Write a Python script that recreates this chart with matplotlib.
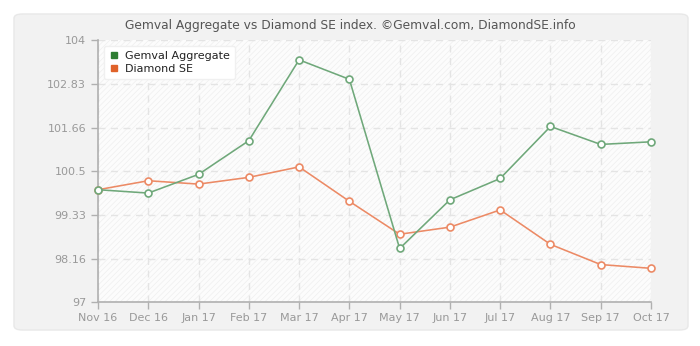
import matplotlib
matplotlib.use("Agg")
import matplotlib.pyplot as plt
from matplotlib.patches import FancyBboxPatch, Rectangle
from matplotlib.lines import Line2D

months = ["Nov 16", "Dec 16", "Jan 17", "Feb 17", "Mar 17", "Apr 17",
          "May 17", "Jun 17", "Jul 17", "Aug 17", "Sep 17", "Oct 17"]
gemval = [100.0, 99.91, 100.41, 101.31, 103.47, 102.95,
          98.43, 99.73, 100.30, 101.69, 101.21, 101.28]
diamond = [100.0, 100.24, 100.15, 100.33, 100.61, 99.69,
           98.81, 99.0, 99.46, 98.54, 98.0, 97.90]
yticks = [97, 98.16, 99.33, 100.5, 101.66, 102.83, 104]
ytick_labels = ["97", "98.16", "99.33", "100.5", "101.66", "102.83", "104"]

plt.rcParams['font.family'] = ['DejaVu Sans']
plt.rcParams['hatch.color'] = '#efefef'
plt.rcParams['hatch.linewidth'] = 0.5

fig = plt.figure(figsize=(7, 3.46), dpi=100)
fig.patch.set_facecolor("white")

# outer rounded panel
panel = FancyBboxPatch((14/700, 1-330/346), 674/700, 316/346,
                       boxstyle="round,pad=0,rounding_size=0.012",
                       transform=fig.transFigure, facecolor="#f2f2f2",
                       edgecolor="#e8e8e8", linewidth=1, zorder=-10)
fig.patches.append(panel)

ax = fig.add_axes([98/700, 1-302/346, 553/700, 262/346])
ax.set_zorder(1)
ax.set_facecolor("#fcfcfc")
x = list(range(len(months)))

# hatched background
ax.add_patch(Rectangle((0, 0), 1, 1, transform=ax.transAxes, facecolor="#fcfcfc",
                       hatch="//////", edgecolor="#efefef", linewidth=0, zorder=0))

ax.set_xlim(0, len(months) - 1)
ax.set_ylim(97, 104)
ax.set_xticks(x)
ax.set_xticklabels(months)
ax.set_yticks(yticks)
ax.set_yticklabels(ytick_labels)

ax.grid(True, linestyle=(0, (5, 4)), color="#e4e4e4", linewidth=1, zorder=1)

for s in ["top", "right"]:
    ax.spines[s].set_visible(False)
for s in ["left", "bottom"]:
    ax.spines[s].set_color("#b0b0b0")
    ax.spines[s].set_linewidth(1.2)
ax.tick_params(axis="both", colors="#b0b0b0", labelcolor="#999999",
               labelsize=8, length=5, width=1)
ax.tick_params(axis="x", pad=3)

green = "#6fa87a"
orange = "#ec8a65"
ax.plot(x, gemval, color=green, linewidth=1.15, marker="o", markersize=5,
        markerfacecolor="white", markeredgecolor=green, markeredgewidth=1.2,
        zorder=4, clip_on=False)
ax.plot(x, diamond, color=orange, linewidth=1.15, marker="o", markersize=5,
        markerfacecolor="white", markeredgecolor=orange, markeredgewidth=1.2,
        zorder=3, clip_on=False)

fig.text(350/700, 1-26/346, "Gemval Aggregate vs Diamond SE index. ©Gemval.com, DiamondSE.info",
         ha="center", va="center", fontsize=8.8, color="#555555")

handles = [Line2D([0], [0], marker="s", linestyle="none", color="#2e7d32", markersize=4),
           Line2D([0], [0], marker="s", linestyle="none", color="#e0622a", markersize=4)]
leg = ax.legend(handles, ["Gemval Aggregate", "Diamond SE"], loc="upper left",
                bbox_to_anchor=(0.0, 1.0), frameon=True, fontsize=8,
                handlelength=0.8, handletextpad=0.6, borderpad=0.5,
                labelspacing=0.25, fancybox=True, framealpha=1)
leg.get_frame().set_facecolor("white")
leg.get_frame().set_edgecolor("#f0f0f0")
for t in leg.get_texts():
    t.set_color("#222222")

fig.savefig("out.png", dpi=100)
